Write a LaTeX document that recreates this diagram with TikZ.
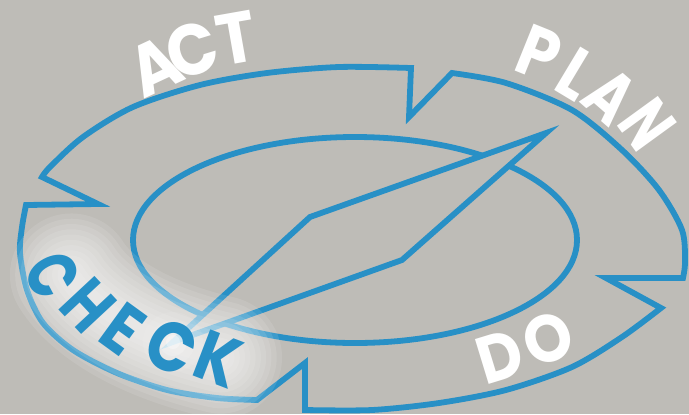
\documentclass[tikz,border=0pt]{standalone}
\usepackage{fontspec}
\newfontfamily\pdcafont{Poppins}[FakeStretch=0.92]
\usepackage{graphicx}
\usepackage{tikz}
\definecolor{pdcablue}{RGB}{40,144,198}
\definecolor{pdcagray}{RGB}{190,188,183}
\tikzset{
    ringline/.style={
        draw=pdcablue,
        line width=3.3pt,
        line join=miter
    },
    glowlayer/.style={
        draw=white,
        line cap=round,
        opacity=#1
    },
    steplab/.style={
        inner sep=0pt,
        text=white,
        font=\pdcafont\bfseries\fontsize{#1}{40}\selectfont
    }
}

\begin{document}
\begin{tikzpicture}[x=0.02cm,y=0.02cm]
\fill[pdcagray] (0,0) rectangle (689,414);
\useasboundingbox (0,0) rectangle (689,414);
\coordinate (ctr) at (354,176);
\coordinate (ntip) at (546,281);
\coordinate (nleft) at (310,197);
\coordinate (nend) at (173,72);
\coordinate (nright) at (402,154);

\draw[ringline]
  plot[smooth] coordinates {(42,237) (50,247) (83,277) (133,307) (200,329) (267,341) (339,347) (411,346)}
  -- (409,297) -- (452,341)
  -- plot[smooth] coordinates {(452,341) (506,331) (572,304) (622,264) (659,224) (682,184) (685,152) (683,136)}
  -- (606,136) -- (661,106)
  -- plot[smooth] coordinates {(661,106) (622,77) (572,47) (506,24) (439,11) (372,4) (305,4)}
  -- (305,51) -- (257,14)
  -- plot[smooth] coordinates {(257,14) (217,16) (167,24) (117,41) (73,64) (43,91) (27,124) (20,161) (22,187) (26,209)}
  -- (98,210) -- cycle;
\draw[ringline] (355,174) ellipse [x radius=222, y radius=103];
\filldraw[ringline, fill=pdcagray] (ntip) -- (nleft) -- (nend) -- (nright) -- cycle;

\foreach \w in {70,64,...,10}
  \draw[glowlayer=0.1, line width=\w pt] (ctr) ++(196:294 and 134) arc[start angle=196, end angle=243, x radius=294, y radius=134];
\foreach \r/\o in {30/0.08,22/0.12,14/0.2,7/0.35}
  \fill[white, opacity=\o] (nend) circle (\r);

\foreach \ch/\px/\py/\rot/\sx [count=\i] in {C/53/139/-62/0.8,H/88/109/-47/0.85,E/123/85/-36/0.92,C/172/67/-27/0.95,K/218/55/-21/0.95}
  \node[steplab=40, text=pdcablue, rotate=\rot] (chk\i) at (\px,\py) {\scalebox{\sx}[1]{\ch}};
\foreach \ch/\px/\py/\rot/\sx [count=\i] in {A/155/348/25/1,C/192/364/17/1,T/236/376/10/1}
  \node[steplab=41, rotate=\rot] (act\i) at (\px,\py) {\scalebox{\sx}[1]{\ch}};
\foreach \ch/\px/\py/\rot/\sx [count=\i] in {P/539/361/-22/0.95,L/577/340/-31/0.9,A/611/318/-41/0.85,N/647/290/-54/0.78}
  \node[steplab=41, rotate=\rot] (plan\i) at (\px,\py) {\scalebox{\sx}[1]{\ch}};
\foreach \ch/\px/\py/\rot/\sx [count=\i] in {D/500/57/17/1,O/548/75/22/1}
  \node[steplab=38, rotate=\rot] (do\i) at (\px,\py) {\scalebox{\sx}[1]{\ch}};
\end{tikzpicture}
\end{document}
